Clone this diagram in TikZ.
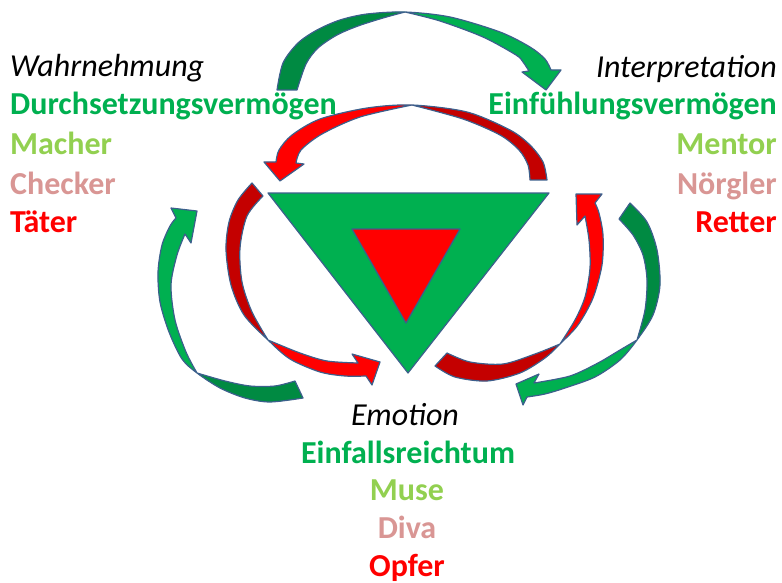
\documentclass[tikz,border=0pt]{standalone}
\usepackage{fontspec}
\setmainfont{Carlito}
\usepackage{tikz}
\definecolor{lineblue}{RGB}{60,95,140}
\definecolor{grnfront}{RGB}{0,176,80}
\definecolor{grnback}{RGB}{0,138,66}
\definecolor{redfront}{RGB}{255,0,0}
\definecolor{redback}{RGB}{196,0,0}
\definecolor{txtgreen}{RGB}{0,176,80}
\definecolor{txtlight}{RGB}{146,208,80}
\definecolor{txtrose}{RGB}{217,150,148}
\definecolor{txtred}{RGB}{255,0,0}

% curved arrow: #1 outline, #2 front colour, #3 back colour, #4 back region
\newcommand{\twotonearrow}[4]{%
  \fill[#2] #1;
  \begin{scope}\clip #4; \fill[#3] #1;\end{scope}
  \draw[face] #1;}

\newcommand{\tgpath}{plot[smooth] coordinates {(277,90) (283,63) (298,43) (317,30) (340,20) (367,14) (405,12) (450,17) (500,32) (530,47) (545,59) (551,70)}
  -- (561,70) -- (546,90) -- (522,72) -- (529,71)
  -- plot[smooth] coordinates {(529,71) (523,62) (516,55) (483,37) (440,21) (405,12)}
  -- plot[smooth] coordinates {(405,12) (383,18) (358,26) (337,35) (318,48) (306,64) (297,90)} -- cycle}
\newcommand{\trpath}{plot[smooth] coordinates {(547,180) (543,162) (530,145) (510,130) (467,112) (412,105) (367,108) (320,119) (292,135) (279,150) (276,162)}
  -- (264,162) -- (280,181) -- (304,164) -- (296,163)
  -- plot[smooth] coordinates {(296,163) (301,150) (322,134) (360,117) (412,105)}
  -- plot[smooth] coordinates {(412,105) (463,119) (500,135) (519,150) (528,165) (530,180)} -- cycle}
\newcommand{\lrpath}{plot[smooth] coordinates {(252,183) (238,200) (229,222) (226,250) (231,285) (244,315) (268,340) (290,359) (320,372) (345,376) (366,376)}
  -- (372,385) -- (380,362) -- (352,354) -- (358,363)
  -- plot[smooth] coordinates {(358,363) (327,361) (300,353) (268,340)}
  -- plot[smooth] coordinates {(268,340) (252,312) (242,282) (240,248) (247,216) (263,196)} -- cycle}
\newcommand{\rrpath}{plot[smooth] coordinates {(435,366) (455,377) (487,381) (520,373) (545,358) (560,344) (578,325) (593,298) (602,265) (603,235) (599,213) (595,203)}
  -- (602,194) -- (576,194) -- (577,225) -- (585,216)
  -- plot[smooth] coordinates {(585,216) (589,240) (590,268) (585,297) (575,320) (560,344)}
  -- plot[smooth] coordinates {(560,344) (535,354) (503,364) (470,362) (447,353)} -- cycle}
\newcommand{\rgpath}{plot[smooth] coordinates {(630,203) (647,222) (657,250) (660,285) (653,315) (637,340) (620,360) (595,377) (565,388) (545,394) (527,397)}
  -- (523,405) -- (516,384) -- (539,374) -- (534,383)
  -- plot[smooth] coordinates {(534,383) (570,376) (598,363) (620,350) (637,340)}
  -- plot[smooth] coordinates {(637,340) (645,310) (647,280) (643,255) (633,235) (619,219)} -- cycle}
\newcommand{\lgpath}{plot[smooth] coordinates {(303,398) (270,402) (245,398) (220,388) (197,373) (182,359) (169,332) (160,302) (158,272) (162,245) (170,226) (176,218)}
  -- (171,208) -- (197,211) -- (191,243) -- (185,234)
  -- plot[smooth] coordinates {(185,234) (177,255) (171,285) (175,320) (186,352) (197,373)}
  -- plot[smooth] coordinates {(197,373) (225,381) (250,386) (275,386) (295,381)} -- cycle}

\begin{document}
\begin{tikzpicture}[x=1pt,y=-1pt,
  face/.style={draw=lineblue,line width=1.2pt,line join=round},
  roleword/.style={inner sep=0pt,font=\fontsize{32}{38}\selectfont\bfseries},
  headword/.style={inner sep=0pt,font=\fontsize{32}{38}\selectfont\itshape,text=black}]
  \useasboundingbox (0,0) rectangle (782,583);

  % outer green arrows
  \twotonearrow{\tgpath}{grnfront}{grnback}{(0,0) rectangle (405,200)}
  \twotonearrow{\rgpath}{grnfront}{grnback}{(637,340) -- (437,140) -- (782,140) -- (782,485) -- cycle}
  \twotonearrow{\lgpath}{grnfront}{grnback}{(357,173) -- (37,573) -- (600,573) -- (600,173) -- cycle}

  % inner red arrows
  \twotonearrow{\trpath}{redfront}{redback}{(412,0) rectangle (782,300)}
  \twotonearrow{\lrpath}{redfront}{redback}{(268,340) -- (400,208) -- (150,100) -- (150,400) -- cycle}
  \twotonearrow{\rrpath}{redfront}{redback}{(560,344) -- (760,544) -- (300,544) -- (300,84) -- cycle}

  % triangles
  \filldraw[face,fill=grnfront] (268,193) -- (549,193) -- (408,373) -- cycle;
  \filldraw[face,fill=redfront] (352,229) -- (460,229) -- (406,323) -- cycle;

  % left column
  \node[headword,anchor=base west] (wahr) at (10,77) {Wahrnehmung};
  \node[roleword,text=txtgreen,anchor=base west] (durch) at (10,115) {Durchsetzungsvermögen};
  \node[roleword,text=txtlight,anchor=base west] (macher) at (10,155) {Macher};
  \node[roleword,text=txtrose,anchor=base west] (checker) at (10,194) {Checker};
  \node[roleword,text=txtred,anchor=base west] (taeter) at (10,232) {Täter};

  % right column
  \node[headword,anchor=base east] (interp) at (777,78) {Interpretation};
  \node[roleword,text=txtgreen,anchor=base east] (einf) at (777,115) {Einfühlungsvermögen};
  \node[roleword,text=txtlight,anchor=base east] (mentor) at (777,155) {Mentor};
  \node[roleword,text=txtrose,anchor=base east] (noergler) at (777,194) {Nörgler};
  \node[roleword,text=txtred,anchor=base east] (retter) at (777,232) {Retter};

  % bottom column
  \node[headword,anchor=base] (emotion) at (405,425) {Emotion};
  \node[roleword,text=txtgreen,anchor=base] (einfall) at (408,463) {Einfallsreichtum};
  \node[roleword,text=txtlight,anchor=base] (muse) at (407,500) {Muse};
  \node[roleword,text=txtrose,anchor=base] (diva) at (407,538) {Diva};
  \node[roleword,text=txtred,anchor=base] (opfer) at (407,576) {Opfer};
\end{tikzpicture}
\end{document}
